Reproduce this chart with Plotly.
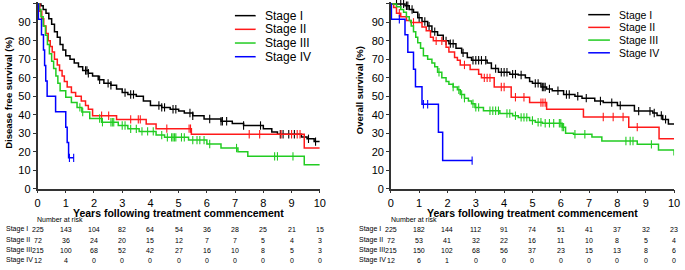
import plotly.graph_objects as go

# ---------------- data ----------------
stages = ["Stage I", "Stage II", "Stage III", "Stage IV"]
colors = ["#000000", "#ff1a1a", "#22cc22", "#0000ff"]

# Disease free survival (left panel): step times (years) and survival (%)
dfs_t_I = [0, 0.12, 0.2, 0.3, 0.4, 0.5, 0.6, 0.7, 0.8, 0.9, 1.0, 1.15, 1.3, 1.45, 1.6, 1.8, 1.95, 2.15, 2.35, 2.6,
           2.8, 3.0, 3.2, 3.5, 3.75, 4.0, 4.4, 4.7, 5.0, 5.2, 5.5, 5.9, 6.5, 6.9, 7.3, 8.0, 8.3, 8.5, 9.35, 9.55, 9.8, 10.0]
dfs_s_I = [100, 99, 97, 95, 92, 89, 85, 82, 78, 75, 72, 70, 68, 66, 64, 62.5, 61, 59, 57, 56,
           54, 52, 51, 50, 47.5, 45, 44, 43, 42, 41, 39.5, 37.7, 36.5, 35.3, 34.2, 32.4, 30.7, 29.5, 28, 27, 25.5, 25.5]
dfs_c_I = [1.7, 1.75, 1.8, 2.2, 2.5, 2.6, 3.1, 3.3, 3.4, 4.3, 4.4, 4.5, 4.8, 4.9, 5.4, 5.5, 6.1, 6.5, 6.55,
           6.7, 7.3, 7.9, 8.6, 8.7, 8.9, 9.1, 9.6, 9.85]

dfs_t_II = [0, 0.08, 0.15, 0.22, 0.3, 0.38, 0.45, 0.52, 0.6, 0.7, 0.78, 0.87, 0.95, 1.05, 1.2, 1.35, 1.55, 1.7,
            1.8, 1.95, 2.8, 3.85, 4.2, 5.45, 9.45, 10.0]
dfs_s_II = [100, 96, 92, 88, 84, 80, 77, 74, 70, 67, 64, 61, 58, 55, 52, 50, 47.5, 45, 43, 39.5, 37.5, 35, 32.5,
            29.5, 22, 22]
dfs_c_II = [2.27, 2.52, 3.3, 3.57, 3.64, 4.58, 5.37, 5.42, 7.5, 7.87, 8.63, 9.0, 9.2, 9.3]

dfs_t_III = [0, 0.05, 0.12, 0.2, 0.28, 0.35, 0.42, 0.5, 0.57, 0.65, 0.72, 0.8, 1.0, 1.2, 1.4, 1.57, 1.85, 2.27,
             2.86, 3.2, 3.6, 4.2, 4.5, 5.35, 6.0, 6.5, 7.1, 7.45, 9.45, 10.0]
dfs_s_III = [100, 97, 93, 88, 83, 78, 73, 69, 65, 61, 57, 53, 49.5, 46.6, 44, 41.5, 38, 36, 34.2, 32.4, 31, 29,
             27.8, 26.3, 24.2, 22, 20, 17.5, 13, 13]
dfs_c_III = [1.5, 1.6, 2.2, 2.3, 2.6, 2.65, 2.7, 3.0, 3.1, 3.3, 3.5, 3.7, 3.9, 4.1, 4.4, 4.6, 4.75, 4.8, 4.85,
             4.9, 5.1, 5.2, 5.5, 5.65, 5.75, 5.9, 6.1, 7.05, 8.4, 8.5, 9.05]

dfs_t_IV = [0, 0.03, 0.14, 0.21, 0.25, 0.29, 0.34, 0.64, 1.0, 1.05, 1.1, 1.28]
dfs_s_IV = [100, 91.7, 83.3, 75, 66.7, 58.3, 50, 41.7, 33.3, 25, 16.7, 16.7]
dfs_c_IV = [1.13, 1.28]

# Overall survival (right panel)
os_t_I = [0, 0.5, 0.65, 0.8, 0.95, 1.1, 1.3, 1.45, 1.65, 1.85, 2.05, 2.3, 2.5, 2.7, 2.85, 3.4, 3.55, 3.8, 4.2,
          4.5, 4.75, 4.9, 5.0, 5.3, 5.5, 5.7, 6.1, 6.5, 6.75, 7.2, 7.5, 8.0, 8.6, 9.25, 9.4, 9.6, 9.8, 10.0]
os_s_I = [100, 99, 97, 95.5, 92.5, 90.5, 88, 85, 83, 80, 78.5, 76, 73.5, 71, 69.5, 68, 65, 63, 62,
          61.5, 60, 58, 57, 55, 54, 53, 51, 50, 49, 47.5, 46.6, 45, 42, 41, 39.6, 37.5, 35, 35]
os_c_I = [0.2, 0.35, 0.45, 0.55, 0.6, 0.75, 1.0, 1.2, 1.35, 1.55, 1.95, 2.1, 2.2, 2.55, 2.9, 3.0, 3.1, 3.2,
          3.35, 3.7, 3.9, 4.0, 4.1, 4.3, 4.4, 4.6, 5.1, 5.2, 5.35, 5.4, 5.45, 5.6, 5.9, 6.2, 6.3, 6.6, 6.9,
          7.4, 7.8, 8.1, 8.75, 9.15, 9.3, 9.55, 9.7]

os_t_II = [0, 0.1, 0.2, 0.35, 0.55, 0.7, 1.1, 1.25, 1.4, 1.5, 1.95, 2.05, 2.25, 2.35, 2.45, 2.8, 3.1, 3.2, 3.65,
           4.25, 4.9, 5.5, 6.8, 8.4, 9.47, 10.0]
os_s_II = [100, 98, 95, 93, 91, 90, 87.5, 85.5, 82, 80, 76.5, 74, 71, 69.5, 67, 64.5, 62, 60, 55,
           49.5, 46.6, 43, 38.8, 33.3, 27, 27]
os_c_II = [0.3, 0.8, 1.6, 1.8, 2.6, 3.3, 3.4, 3.5, 3.9, 4.0, 4.4, 4.7, 5.3, 5.37, 5.45, 7.5, 7.85, 8.2, 8.7]

os_t_III = [0, 0.2, 0.35, 0.45, 0.55, 0.65, 0.72, 0.8, 0.88, 0.95, 1.05, 1.15, 1.3, 1.45, 1.55, 1.65, 1.8, 1.95,
            2.05, 2.2, 2.35, 2.45, 2.6, 2.74, 2.85, 2.97, 3.27, 3.85, 4.3, 4.5, 4.9, 5.1, 5.35, 6.05, 6.17,
            6.45, 7.1, 7.45, 8.7, 9.45, 10.0]
os_s_III = [100, 98.5, 97, 95.5, 93, 91, 88, 85, 82, 79, 76, 72, 70, 68, 66, 63, 60, 58, 56.5, 55, 53.5, 51,
            49, 47.5, 46, 44, 42.2, 40.7, 39.5, 38.6, 36.9, 36, 35.4, 33.3, 30, 29.5, 28, 25.8, 24, 21, 18]
os_c_III = [1.7, 2.2, 2.4, 2.5, 2.6, 2.9, 3.0, 3.1, 3.5, 3.6, 3.7, 3.8, 4.1, 4.2, 4.4, 4.6, 4.7, 4.8, 5.0,
            5.2, 5.3, 5.45, 5.6, 5.75, 5.95, 6.0, 6.05, 6.1, 6.5, 6.85, 8.3, 8.45, 8.55, 9.2]

os_t_IV = [0, 0.02, 0.5, 0.6, 0.8, 0.87, 1.1, 1.68, 1.83, 2.87]
os_s_IV = [100, 91.7, 83.3, 73.9, 64.6, 55.2, 45.7, 30.6, 15.2, 15.2]
os_c_IV = [0.3, 1.15, 1.3, 2.87]

# Number at risk tables
risk_years = [0, 1, 2, 3, 4, 5, 6, 7, 8, 9, 10]
dfs_risk_I = [225, 143, 104, 82, 64, 54, 36, 28, 25, 21, 15]
dfs_risk_II = [72, 36, 24, 20, 15, 12, 7, 7, 5, 4, 3]
dfs_risk_III = [215, 100, 68, 52, 42, 27, 16, 10, 8, 5, 3]
dfs_risk_IV = [12, 4, 0, 0, 0, 0, 0, 0, 0, 0, 0]
os_risk_I = [225, 182, 144, 112, 91, 74, 51, 41, 37, 32, 23]
os_risk_II = [72, 53, 41, 32, 22, 16, 11, 10, 8, 5, 4]
os_risk_III = [215, 150, 102, 68, 56, 37, 23, 15, 13, 8, 6]
os_risk_IV = [12, 6, 1, 0, 0, 0, 0, 0, 0, 0, 0]

x_ticks = [0, 1, 2, 3, 4, 5, 6, 7, 8, 9, 10]
y_ticks = [0, 10, 20, 30, 40, 50, 60, 70, 80, 90, 100]

# ---------------- figure ----------------
W, H = 685, 270
FONT = "Arial, Liberation Sans, sans-serif"
NARROW = "Liberation Sans Narrow, Arial Narrow, Arial, sans-serif"


def px_x(p):
    return p / W


def px_y(p):
    return (H - p) / H


def step_lookup(ts, ss, t):
    val = ss[0]
    for ti, si in zip(ts, ss):
        if ti <= t:
            val = si
    return val


fig = go.Figure()

panels = [
    ("x", "y", [(dfs_t_I, dfs_s_I, dfs_c_I), (dfs_t_II, dfs_s_II, dfs_c_II),
                (dfs_t_III, dfs_s_III, dfs_c_III), (dfs_t_IV, dfs_s_IV, dfs_c_IV)]),
    ("x2", "y2", [(os_t_I, os_s_I, os_c_I), (os_t_II, os_s_II, os_c_II),
                  (os_t_III, os_s_III, os_c_III), (os_t_IV, os_s_IV, os_c_IV)]),
]

for xa, ya, curves in panels:
    for (ts, ss, cs), name, col in zip(curves, stages, colors):
        fig.add_trace(go.Scatter(x=ts, y=ss, mode="lines", line=dict(color=col, width=1.5, shape="hv"),
                                 name=name, showlegend=False, xaxis=xa, yaxis=ya, hoverinfo="skip"))
        fig.add_trace(go.Scatter(x=cs, y=[step_lookup(ts, ss, c) for c in cs], mode="markers",
                                 marker=dict(symbol="line-ns", size=6, line=dict(color=col, width=1.1)),
                                 showlegend=False, xaxis=xa, yaxis=ya, cliponaxis=False, hoverinfo="skip"))

y_dom = [px_y(193), px_y(193 - 100.8 * 1.89)]
axis_common = dict(showline=True, linecolor="#333333", linewidth=1.5, ticks="outside", ticklen=3,
                   tickcolor="#333333", tickwidth=1, showgrid=False, zeroline=False)

fig.update_layout(
    width=W, height=H, margin=dict(l=0, r=0, t=0, b=0),
    paper_bgcolor="white", plot_bgcolor="white",
    font=dict(family=FONT, color="black"),
    xaxis=dict(domain=[px_x(35), px_x(321)], range=[0, 10], tickvals=x_ticks,
               tickfont=dict(size=11), anchor="y", **axis_common),
    yaxis=dict(domain=y_dom, range=[0, 100.8], tickvals=y_ticks, tickfont=dict(size=11), anchor="x",
               **axis_common),
    xaxis2=dict(domain=[px_x(393), px_x(680)], range=[0, 10], tickvals=x_ticks,
                tickfont=dict(size=11), anchor="y2", **axis_common),
    yaxis2=dict(domain=y_dom, range=[0, 100.8], tickvals=y_ticks, tickfont=dict(size=11), anchor="x2",
                **axis_common),
    showlegend=False,
)

ann = []
shapes = []

# axis titles
ann.append(dict(text="<b>Disease free survival (%)</b>", x=px_x(6), y=px_y(95), xref="paper", yref="paper",
                textangle=-90, showarrow=False, font=dict(size=9.5), xanchor="center", yanchor="middle"))
ann.append(dict(text="<b>Overall survival (%)</b>", x=px_x(362), y=px_y(92), xref="paper", yref="paper",
                textangle=-90, showarrow=False, font=dict(size=9.5), xanchor="center", yanchor="middle"))
for cx in (178, 537):
    ann.append(dict(text="<b>Years following treatment commencement</b>", x=px_x(cx), y=px_y(217.5),
                    xref="paper", yref="paper", showarrow=False, font=dict(size=10.5),
                    xanchor="center", yanchor="middle"))

# legends (drawn manually to match compact spacing)
leg_specs = [
    (235, 256, 263, [16, 30, 44, 58], 12),
    (593, 615, 622, [15, 28, 41, 54], 10.5),
]
for x0, x1, xt, ys, fs in leg_specs:
    for name, col, yy in zip(stages, colors, ys):
        shapes.append(dict(type="line", xref="paper", yref="paper", x0=px_x(x0), x1=px_x(x1),
                           y0=px_y(yy), y1=px_y(yy), line=dict(color=col, width=1.5)))
        ann.append(dict(text=name, x=px_x(xt), y=px_y(yy), xref="paper", yref="paper", showarrow=False,
                        font=dict(size=fs), xanchor="left", yanchor="middle"))

# number at risk tables
row_y = [234.5, 245.5, 256, 266]
tables = [
    ("x", 1, 32, [dfs_risk_I, dfs_risk_II, dfs_risk_III, dfs_risk_IV]),
    ("x2", 359, 391, [os_risk_I, os_risk_II, os_risk_III, os_risk_IV]),
]
for xr, lab_x, head_x, rows in tables:
    ann.append(dict(text="Number at risk", x=px_x(head_x), y=px_y(224.5), xref="paper", yref="paper",
                    showarrow=False, font=dict(size=7), xanchor="left", yanchor="middle"))
    for name, vals, yy in zip(stages, rows, row_y):
        ann.append(dict(text=name, x=px_x(lab_x), y=px_y(yy), xref="paper", yref="paper", showarrow=False,
                        font=dict(size=7, family=NARROW), xanchor="left", yanchor="middle"))
        for yr, v in zip(risk_years, vals):
            ann.append(dict(text=str(v), x=yr, y=px_y(yy), xref=xr, yref="paper", showarrow=False,
                            font=dict(size=7), xanchor="center", yanchor="middle"))

fig.update_layout(annotations=ann, shapes=shapes)
fig.write_html("out.html", config={"displayModeBar": False},
               post_script="document.body.style.margin='0';document.body.style.overflow='hidden';")
